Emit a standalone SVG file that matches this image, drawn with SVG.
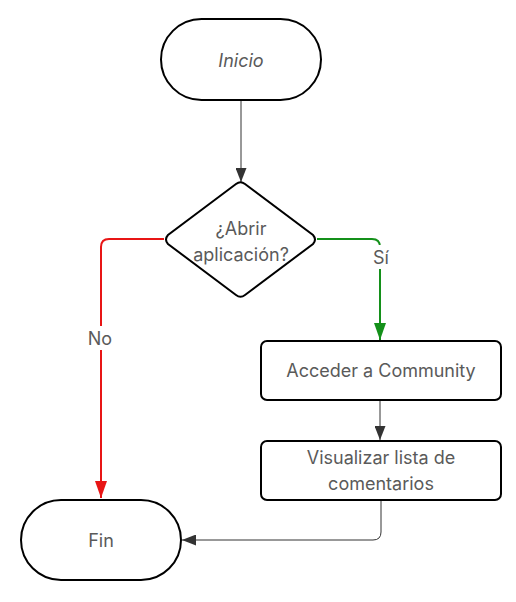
<svg xmlns="http://www.w3.org/2000/svg" width="516" height="602" viewBox="0 0 516 602">
<style>
.node{fill:#fff;stroke:#000;stroke-width:2}
.t{font-family:Inter,"Liberation Sans",sans-serif;font-size:18px;fill:#5a5a5a;text-anchor:middle;dominant-baseline:central}
.lbl{font-family:Inter,"Liberation Sans",sans-serif;font-size:18px;fill:#5a5a5a;text-anchor:middle;dominant-baseline:central}
.c{fill:none;stroke:#333;stroke-width:1}
</style>
<defs>
<marker id="ad" viewBox="0 0 10 10" refX="10" refY="5" markerWidth="14" markerHeight="11" markerUnits="userSpaceOnUse" orient="auto" preserveAspectRatio="none"><path d="M0,0L10,5L0,10z" fill="#333"/></marker>
<marker id="ar" viewBox="0 0 10 10" refX="10" refY="5" markerWidth="17" markerHeight="12" markerUnits="userSpaceOnUse" orient="auto" preserveAspectRatio="none"><path d="M0,0L10,5L0,10z" fill="#e81515"/></marker>
<marker id="ag" viewBox="0 0 10 10" refX="10" refY="5" markerWidth="17" markerHeight="12" markerUnits="userSpaceOnUse" orient="auto" preserveAspectRatio="none"><path d="M0,0L10,5L0,10z" fill="#14901a"/></marker>
</defs>
<g id="connectors">
<path class="c" d="M241,100V182" marker-end="url(#ad)"/>
<path d="M164,239H109Q101,239 101,247V498" fill="none" stroke="#e81515" stroke-width="2" marker-end="url(#ar)"/>
<path d="M317,239H372Q380,239 380,247V340" fill="none" stroke="#14901a" stroke-width="2" marker-end="url(#ag)"/>
<path class="c" d="M380,400V440" marker-end="url(#ad)"/>
<path class="c" d="M381,500V532Q381,540 373,540H182" marker-end="url(#ad)"/>
<rect x="85" y="326" width="30" height="24" fill="#fff"/>
<text class="lbl" x="100" y="338">No</text>
<rect x="369" y="245" width="24" height="24" fill="#fff"/>
<text class="lbl" x="381" y="257">Sí</text>
</g>
<g id="inicio">
<rect class="node" x="161" y="19" width="160" height="81" rx="40.5"/>
<text class="t" x="241" y="60" font-style="italic" font-size="17">Inicio</text>
</g>
<g id="decision">
<path class="node" d="M236,184Q240.5,180.5 245,184L313,235Q317,239.5 313,244L245,295Q240.5,298.5 236,295L168,244Q164,239.5 168,235Z"/>
<text class="t" x="241" y="228">¿Abrir</text>
<text class="t" x="241" y="254">aplicación?</text>
</g>
<g id="acceder">
<rect class="node" x="261" y="341" width="240" height="59" rx="6"/>
<text class="t" x="381" y="370">Acceder a Community</text>
</g>
<g id="visualizar">
<rect class="node" x="261" y="441" width="240" height="59" rx="6"/>
<text class="t" x="381" y="457">Visualizar lista de</text>
<text class="t" x="381" y="483">comentarios</text>
</g>
<g id="fin">
<rect class="node" x="21" y="500" width="160" height="80" rx="40"/>
<text class="t" x="101" y="540">Fin</text>
</g>
</svg>
